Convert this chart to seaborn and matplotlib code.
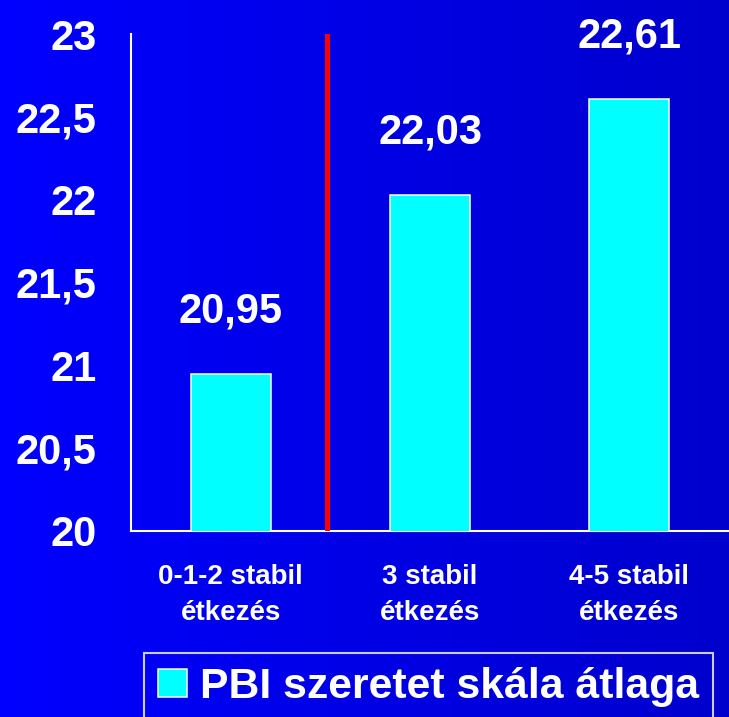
import numpy as np
import pandas as pd
import matplotlib
matplotlib.use('Agg')
import matplotlib.pyplot as plt
import seaborn as sns

# data
categories = ['0-1-2 stabil\nétkezés', '3 stabil\nétkezés', '4-5 stabil\nétkezés']
values = [20.95, 22.03, 22.61]
value_labels = ['20,95', '22,03', '22,61']
y_ticks = [20, 20.5, 21, 21.5, 22, 22.5, 23]
y_tick_labels = ['20', '20,5', '21', '21,5', '22', '22,5', '23']
series_name = 'PBI szeretet skála átlaga'

sns.set_style('white')
plt.rcParams['font.family'] = ['Liberation Sans', 'DejaVu Sans']
plt.rcParams['font.weight'] = 'bold'

W, H = 729, 717
fig = plt.figure(figsize=(W / 100, H / 100), dpi=100)

# blue gradient background, lighter on the left
bg = fig.add_axes([0, 0, 1, 1], zorder=-10)
grad = np.linspace(0, 1, 256).reshape(1, -1)
bg_cmap = matplotlib.colors.LinearSegmentedColormap.from_list('bg', ['#0000FF', '#0000CD'])
bg.imshow(grad, aspect='auto', cmap=bg_cmap, extent=[0, 1, 0, 1])
bg.axis('off')

# plot area: y axis at x=131px, y from 34px (23) to 531px (20)
left, right_px, top, bottom = 131, 729, 34, 531
ax = fig.add_axes([left / W, 1 - bottom / H, (right_px - left) / W, (bottom - top) / H])
ax.patch.set_alpha(0)

df = pd.DataFrame({'cat': categories, 'val': values, 'series': series_name})
sns.barplot(data=df, x='cat', y='val', hue='series', palette=['#00FFFF'], saturation=1,
            width=0.4, edgecolor='white', linewidth=1.1, ax=ax, zorder=3)

ax.set_ylim(20, 23)
ax.set_xlim(-0.5, -0.5 + (right_px - left) / 200.7)
ax.set_yticks(y_ticks)
ax.set_yticklabels(y_tick_labels)
ax.set_xlabel('')
ax.set_ylabel('')

for s in ['top', 'right']:
    ax.spines[s].set_visible(False)
for s in ['left', 'bottom']:
    ax.spines[s].set_color('white')
    ax.spines[s].set_linewidth(1.5)

ax.tick_params(axis='y', colors='white', length=11, width=1.5, direction='out',
               labelsize=30, pad=14)
ax.tick_params(axis='x', colors='white', length=0, labelsize=20, pad=24)
for lbl in ax.get_xticklabels():
    lbl.set_linespacing(1.5)
for lbl in ax.get_yticklabels() + ax.get_xticklabels():
    lbl.set_fontweight('bold')

# category boundary ticks on x axis
ax.set_xticks([-0.5, 0.5, 1.5, 2.5], minor=True)
ax.tick_params(axis='x', which='minor', colors='white', length=7, width=1.5, direction='out')

# red separator line
ax.axvline(0.485, ymin=0, ymax=1, color='#FF0000', linewidth=3.6, zorder=4)

# value labels
for i, (v, t) in enumerate(zip(values, value_labels)):
    ax.annotate(t, (i, v), xytext=(0, 37), textcoords='offset points',
                ha='center', va='baseline', color='white', fontsize=30, fontweight='bold')

# legend box at bottom
ax.legend_.remove()
handles = [matplotlib.patches.Patch(facecolor='#00FFFF', edgecolor='white', linewidth=1.1)]
leg = fig.legend(handles, [series_name], loc='upper left',
                 bbox_to_anchor=(144 / W, 1 - 653 / H), frameon=True,
                 fontsize=30.8, handlelength=0.68, handleheight=0.65, handletextpad=0.29,
                 borderpad=0.33, fancybox=False, borderaxespad=0)
leg.get_frame().set_facecolor('none')
leg.get_frame().set_edgecolor('white')
leg.get_frame().set_linewidth(1.5)
for txt in leg.get_texts():
    txt.set_color('white')
    txt.set_fontweight('bold')

fig.savefig('out.png', dpi=100)
